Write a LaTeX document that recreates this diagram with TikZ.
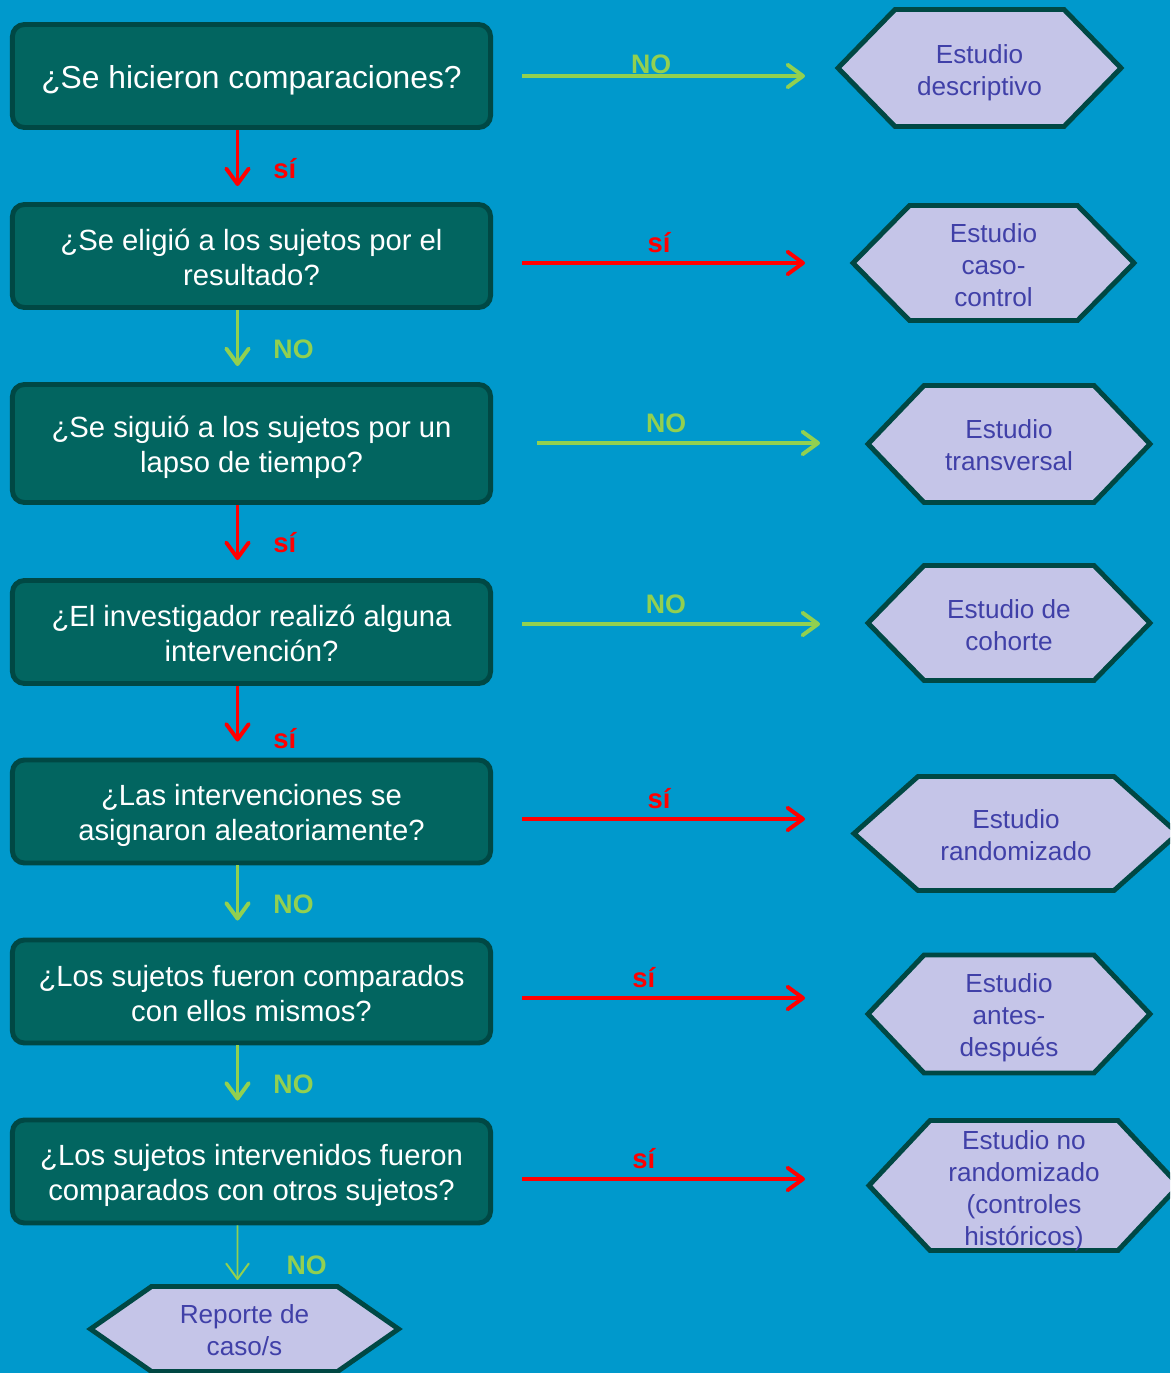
\documentclass[tikz,border=0pt]{standalone}
\usepackage{fontspec}
\setmainfont{Liberation Sans}
\usetikzlibrary{
    arrows.meta,
    positioning,
    calc
}
\definecolor{fondo}{RGB}{0,153,204}
\definecolor{cajaverde}{RGB}{2,101,96}
\definecolor{bordeoscuro}{RGB}{0,72,68}
\definecolor{lila}{RGB}{197,197,232}
\definecolor{tintalila}{RGB}{64,64,168}
\definecolor{verdeno}{RGB}{146,208,80}
\definecolor{rojosi}{RGB}{255,0,0}

% hexagono: nombre, cx, cy, media anchura (punta), media anchura (arriba), media altura, ajuste del texto, texto
\newcommand{\hexbox}[8]{%
    \draw[hexline] (#2-#4,#3) -- (#2-#5,#3-#6) -- (#2+#5,#3-#6) -- (#2+#4,#3)
        -- (#2+#5,#3+#6) -- (#2-#5,#3+#6) -- cycle;
    \node[hextext] (#1) at (#2,#3+#7) {#8};
}
% puntal invisible para bajar el texto de las preguntas
\newcommand{\puntal}[1]{\rule{0pt}{#1}}

\begin{document}
\begin{tikzpicture}[x=0.025cm, y=-0.025cm,
    question/.style={draw=bordeoscuro, line width=3.5pt, fill=cajaverde, rounded corners=0.3cm,
        text=white, align=center, minimum width=11.95cm, minimum height=2.575cm,
        font=\fontsize{20.8}{24.8}\selectfont},
    hexline/.style={draw=bordeoscuro, line width=3.5pt, fill=lila},
    hextext/.style={text=tintalila, align=center, inner sep=0pt,
        font=\fontsize{18.6}{22.7}\selectfont},
    noarrow/.style={draw=verdeno, line width=2.8pt, -{Straight Barb[length=11pt,width=16pt,round]}},
    siarrow/.style={draw=rojosi, line width=2.8pt, -{Straight Barb[length=11pt,width=16pt,round]}},
    nolabel/.style={text=verdeno, inner sep=0pt, font=\bfseries\fontsize{19}{22}\selectfont},
    silabel/.style={text=rojosi, inner sep=0pt, font=\bfseries\fontsize{19.5}{22}\selectfont}
]
    \clip (0,0) rectangle (1170,1373);
    \fill[fondo] (0,0) rectangle (1170,1373);

    % Preguntas
    \node[question, font=\fontsize{22.6}{25}\selectfont] (q1) at (251.5,76) {\raisebox{-3pt}[\height][\depth]{¿Se hicieron comparaciones?}};
    \node[question] (q2) at (251.5,256) {\puntal{17.5pt}¿Se eligió a los sujetos por el\\resultado?};
    \node[question, minimum height=2.95cm] (q3) at (251.5,443.5) {\puntal{21pt}¿Se siguió a los sujetos por un\\lapso de tiempo?};
    \node[question] (q4) at (251.5,632) {\puntal{17.5pt}¿El investigador realizó alguna\\intervención?};
    \node[question] (q5) at (251.5,811.5) {\puntal{21pt}¿Las intervenciones se\\asignaron aleatoriamente?};
    \node[question] (q6) at (251.5,991.5) {\puntal{17.5pt}¿Los sujetos fueron comparados\\con ellos mismos?};
    \node[question] (q7) at (251.5,1171.5) {\puntal{21pt}¿Los sujetos intervenidos fueron\\comparados con otros sujetos?};

    % Tipos de estudio
    \hexbox{h1}{979.5}{68}{141.5}{84.5}{58.5}{4.5}{Estudio\\descriptivo}
    \hexbox{h2}{993.5}{263}{140.5}{84}{57.5}{2}{Estudio\\caso-\\control}
    \hexbox{h3}{1009}{444}{141}{85}{58.5}{1}{Estudio\\transversal}
    \hexbox{h4}{1009}{623}{141}{85}{57.5}{2}{Estudio de\\cohorte}
    \hexbox{h5}{1016}{833.5}{162}{98}{57}{2}{Estudio\\randomizado}
    \hexbox{h6}{1009}{1014}{141}{85}{59}{4}{Estudio\\antes-\\después}
    \hexbox{h7}{1024}{1185.5}{155}{94}{65}{5}{Estudio no\\randomizado\\(controles\\históricos)}
    \hexbox{rep}{244.5}{1329}{154}{93}{42.5}{1}{Reporte de\\caso/s}

    % Puntas de las flechas horizontales
    \coordinate (t1) at (805,76);
    \coordinate (t2) at (805,263);
    \coordinate (t3) at (820,443);
    \coordinate (t4) at (820,624);
    \coordinate (t5) at (805,819);
    \coordinate (t6) at (805,998);
    \coordinate (t7) at (805,1179);
    \coordinate (tr) at (237.5,1280);

    % Flechas horizontales
    \draw[noarrow] ($(q1.east |- t1)+(29,0)$) -- node[nolabel, above=0pt, pos=0.456] {NO} (t1);
    \draw[siarrow] ($(q2.east |- t2)+(29,0)$) -- node[silabel, above=0.2cm, pos=0.484] {sí} (t2);
    \draw[noarrow] ($(q3.east |- t3)+(44,0)$) -- node[nolabel, above=0.2cm, pos=0.456] {NO} (t3);
    \draw[noarrow] ($(q4.east |- t4)+(29,0)$) -- node[nolabel, above=0.2cm, pos=0.483] {NO} (t4);
    \draw[siarrow] ($(q5.east |- t5)+(29,0)$) -- node[silabel, above=0.2cm, pos=0.484] {sí} (t5);
    \draw[siarrow] ($(q6.east |- t6)+(29,0)$) -- node[silabel, above=0.2cm, pos=0.43] {sí} (t6);
    \draw[siarrow] ($(q7.east |- t7)+(29,0)$) -- node[silabel, above=0.2cm, pos=0.43] {sí} (t7);

    % Flechas verticales
    \draw[siarrow] ([xshift=-0.35cm]q1.south) -- node[silabel, pos=0.68, right=0.85cm] {sí} ([xshift=-0.35cm,yshift=0.4cm]q2.north);
    \draw[noarrow] ([xshift=-0.35cm]q2.south) -- node[nolabel, pos=0.7, right=0.85cm] {NO} ([xshift=-0.35cm,yshift=0.4cm]q3.north);
    \draw[siarrow] ([xshift=-0.35cm]q3.south) -- node[silabel, pos=0.69, right=0.85cm] {sí} ([xshift=-0.35cm,yshift=0.45cm]q4.north);
    \draw[siarrow] ([xshift=-0.35cm]q4.south) -- node[silabel, pos=0.95, right=0.85cm] {sí} ([xshift=-0.35cm,yshift=0.4cm]q5.north);
    \draw[noarrow] ([xshift=-0.35cm]q5.south) -- node[nolabel, pos=0.71, right=0.85cm] {NO} ([xshift=-0.35cm,yshift=0.425cm]q6.north);
    \draw[noarrow] ([xshift=-0.35cm]q6.south) -- node[nolabel, pos=0.71, right=0.85cm] {NO} ([xshift=-0.35cm,yshift=0.425cm]q7.north);
    \draw[noarrow, line width=1.4pt] ([xshift=-0.35cm]q7.south) -- node[nolabel, pos=0.73, right=1.2cm] {NO} (tr);
\end{tikzpicture}
\end{document}
